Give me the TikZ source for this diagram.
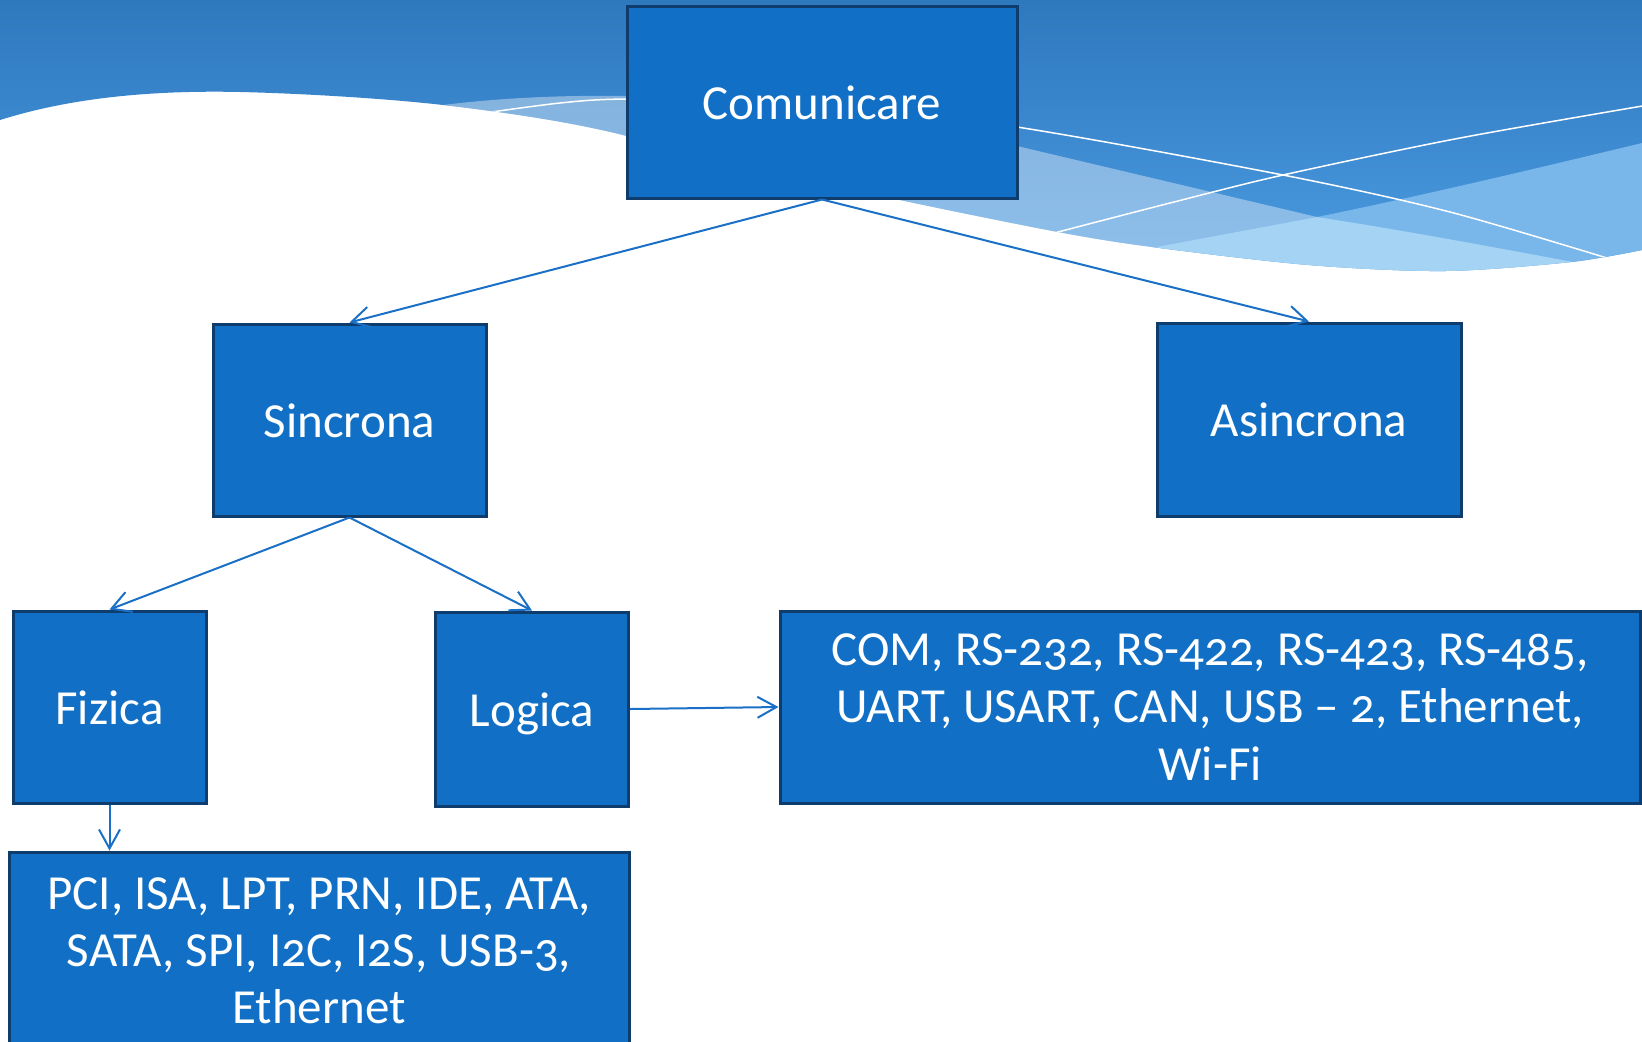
\documentclass[tikz,border=0pt]{standalone}
\usepackage{fontspec}
\setmainfont{Carlito}[Numbers=OldStyle]
\usetikzlibrary{arrows.meta}
\definecolor{boxfill}{HTML}{1170C5}
\definecolor{boxline}{HTML}{0E3C6C}
\definecolor{arr}{HTML}{1A70C6}
\definecolor{topA}{HTML}{2E78BE}
\definecolor{topB}{HTML}{4C9CE2}
\definecolor{bandR}{HTML}{79B6EA}
\definecolor{bandP}{HTML}{A4D3F4}
\begin{document}
\begin{tikzpicture}[x=0.5pt,y=-0.5pt,
  box/.style={draw=boxline, line width=1.5pt, fill=boxfill, text=white,
    font=\fontsize{24.5}{28.6}\selectfont, inner sep=0pt, align=center},
  onel/.style={text height=17pt, text depth=0pt},
  conn/.style={draw=arr, line width=1pt, -{Straight Barb[length=9.5pt,width=10.5pt]}},
  wline/.style={draw=white, line width=0.75pt}]
\useasboundingbox (0,0) rectangle (1642,1041);
\fill[white] (0,0) rectangle (1642,1041);
% header waves
\begin{scope}
\clip (0,0) -- (0,120) .. controls (70,98) and (150,90) .. (241,92) .. controls (320,94) and (400,100) .. (443,105) .. controls (520,114) and (580,124) .. (627,136) -- plot[smooth, tension=0.5] coordinates {(627,136) (760,168) (900,200) (1058,232) (1152,247) (1309,265) (1445,271) (1571,262) (1642,250)} -- (1642,0) -- cycle;
\shade[top color=topA, bottom color=topB] (0,0) rectangle (1642,280);
\fill[white, fill opacity=0.38] (300,135) .. controls (380,115) and (420,108) .. (443,105) .. controls (500,98) and (560,95) .. (627,96) .. controls (760,98) and (900,120) .. (1017,146) -- (1317,217) .. controls (1420,233) and (1520,252) .. (1642,275) -- (1642,400) -- (300,400) -- cycle;
\fill[bandR] (1000,276) -- (1156,247) -- (1317,217) .. controls (1420,196) and (1530,170) .. (1642,143) -- (1642,400) -- (1000,400) -- cycle;
\fill[bandP] (1000,276) -- (1156,247) -- (1317,217) .. controls (1420,233) and (1520,252) .. (1642,275) -- (1642,400) -- (1000,400) -- cycle;
\draw[wline] plot[smooth] coordinates {(470,115) (560,103) (627,99) (800,100) (1017,127) (1283,175) (1450,212) (1620,262)};
\draw[wline] plot[smooth] coordinates {(1040,237) (1058,232) (1170,203) (1283,175) (1460,138) (1660,103)};
\end{scope}
% nodes
\node[box, onel, minimum width=195pt, minimum height=96pt] (com) at (822,102) {Comunicare};
\node[box, onel, minimum width=136.5pt, minimum height=96pt] (sin) at (349.5,420) {Sincrona};
\node[box, onel, minimum width=152pt, minimum height=96.5pt] (asin) at (1309,419.5) {Asincrona};
\node[box, onel, minimum width=96.5pt, minimum height=96pt] (fiz) at (109.5,707) {Fizica};
\node[box, onel, minimum width=96.5pt, minimum height=97pt] (log) at (532,709) {Logica};
\node[box, minimum width=430pt, minimum height=96pt] (coml) at (1210,707) {COM, RS-232, RS-422, RS-423, RS-485,\\UART, USART, CAN, USB – 2, Ethernet,\\Wi-Fi};
\node[box, minimum width=310pt, minimum height=99pt] (pci) at (319,951) {PCI, ISA, LPT, PRN, IDE, ATA,\\SATA, SPI, I2C, I2S, USB-3,\\Ethernet};
% connectors
\draw[conn] (com.south) -- (sin.north);
\draw[conn] (com.south) -- (asin.north);
\draw[conn] (sin.south) -- (fiz.north);
\draw[conn] (sin.south) -- (log.north);
\draw[conn] (log.east) -- (coml.west);
\draw[conn] (fiz.south) -- (fiz.south |- pci.north);
\end{tikzpicture}
\end{document}
